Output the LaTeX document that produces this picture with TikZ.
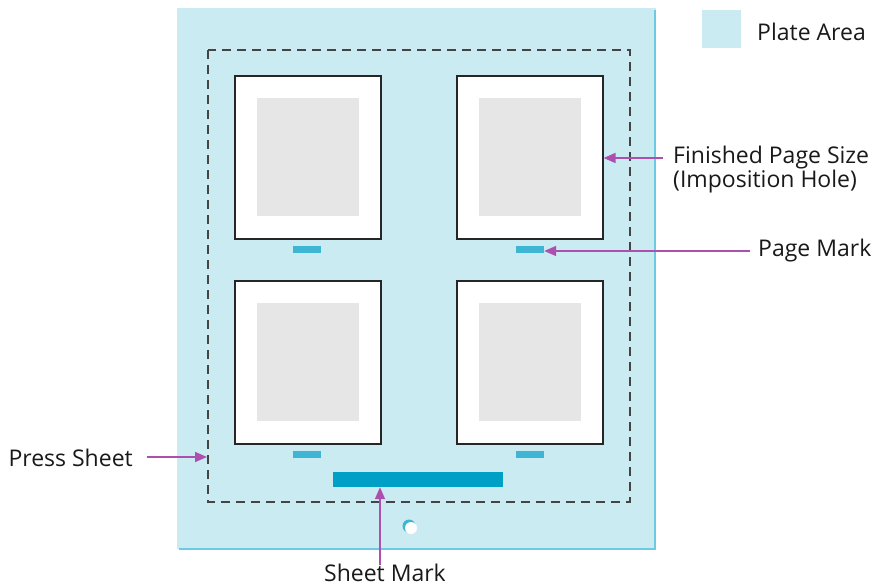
\documentclass[tikz,border=0pt]{standalone}
\usepackage{fontspec}
\setmainfont{Open Sans}
\usetikzlibrary{arrows.meta}
\definecolor{plate}{HTML}{CBEBF2}
\definecolor{plateedge}{HTML}{6CCBE2}
\definecolor{pagegray}{HTML}{E6E6E6}
\definecolor{markc}{HTML}{3DB5D3}
\definecolor{sheetc}{HTML}{00A0C6}
\definecolor{arrowc}{HTML}{AC4FAE}
\definecolor{dashc}{HTML}{444444}
\tikzset{
  pagebox/.style={draw=black!85, line width=1.6pt, fill=white, minimum width=146pt, minimum height=163pt, inner sep=0pt, anchor=north west},
  grayarea/.style={fill=pagegray, draw=none, minimum width=102pt, minimum height=118pt, inner sep=0pt},
  pmark/.style={fill=markc, draw=none, minimum width=28pt, minimum height=7pt, inner sep=0pt},
  lbl/.style={font=\fontsize{23}{24}\selectfont, text=black!90, inner sep=0pt},
  callout/.style={draw=arrowc, line width=1.6pt, -{Triangle[length=12pt,width=10pt]}},
}
\begin{document}
\begin{tikzpicture}[x=1pt,y=-1pt]
\useasboundingbox (0,0) rectangle (880,586);
% plate
\fill[plate] (177,8) rectangle (656,549);
\draw[plateedge, line width=2pt] (655,10) -- (655,549) -- (179,549);
\draw[dashc, line width=1.8pt, dash pattern=on 9pt off 6pt] (208,50) rectangle (630,502);
% pages
\node[pagebox] (p1) at (234,75) {};
\node[pagebox] (p2) at (456,75) {};
\node[pagebox] (p3) at (234,280) {};
\node[pagebox] (p4) at (456,280) {};
\foreach \p in {p1,p2,p3,p4}{
  \node[grayarea] at (\p.center) {};
}
\node[pmark] (m1) at (307,249.5) {};
\node[pmark] (m2) at (530,249.5) {};
\node[pmark] (m3) at (307,454.5) {};
\node[pmark] (m4) at (530,454.5) {};
\node[fill=sheetc, draw=none, minimum width=170pt, minimum height=15pt, inner sep=0pt] (sm) at (418,479.5) {};
% hole
\fill[markc] (409,526) circle (6.5);
\fill[white] (411,528) circle (6);
% legend
\node[fill=plate, minimum width=39pt, minimum height=38pt, inner sep=0pt] (leg) at (721.5,29) {};
\node[lbl, anchor=west] (legt) at (757,32) {Plate Area};
% labels
\node[lbl, anchor=west, align=left] (fps) at (673,170) {Finished Page Size\\(Imposition Hole)};
\node[lbl, anchor=west] (pm) at (758,251) {Page Mark};
\node[lbl, anchor=east] (ps) at (133,458) {Press Sheet};
\node[lbl, anchor=north] (smt) at (385,564) {Sheet Mark};
\coordinate (a1) at (663,158);
\coordinate (a2) at (750,251);
\coordinate (a3) at (147,457);
\coordinate (a4) at (380,565);
\draw[callout] (a1) -- (p2.east |- a1);
\draw[callout] (a2) -- (m2.east |- a2);
\draw[callout] (a3) -- (207,457);
\draw[callout] (a4) -- (a4 |- sm.south);
\end{tikzpicture}
\end{document}
